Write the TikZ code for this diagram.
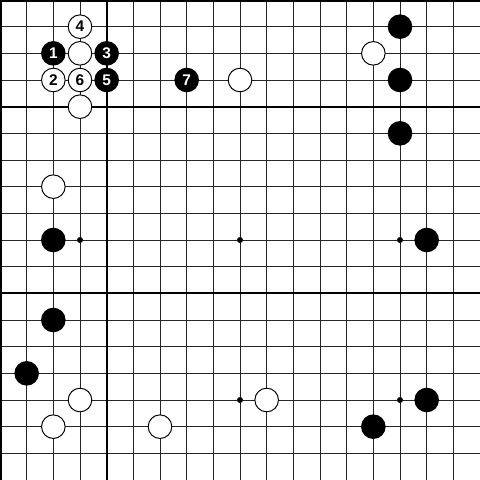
\documentclass[tikz,border=0pt]{standalone}
\usepackage{fontspec}
\setmainfont{Liberation Sans}
\begin{document}
\begin{tikzpicture}[x=0.6666667cm,y=-0.6666667cm,
  gridline/.style={line width=0.7pt,black!85},
  thickline/.style={line width=1.5pt,black},
  edgeline/.style={line width=2.6pt,black},
  starpt/.style={circle,fill=black,inner sep=0pt,minimum size=0.15cm},
  bstone/.style={circle,fill=black,text=white,inner sep=0pt,minimum size=0.615cm,font=\bfseries\fontsize{11pt}{11pt}\selectfont},
  wstone/.style={circle,draw=black,line width=0.7pt,fill=white,text=black,inner sep=0pt,minimum size=0.59cm,font=\bfseries\fontsize{11pt}{11pt}\selectfont}]
\useasboundingbox (0,0) rectangle (18,18);
\clip (0,0) rectangle (18,18);
\fill[white] (0,0) rectangle (18,18);
% grid
\foreach \i in {1,...,18} {
  \draw[gridline] (\i,0) -- (\i,18);
  \draw[gridline] (0,\i) -- (18,\i);
}
\draw[edgeline] (0,0) -- (0,18);
\draw[edgeline] (0,0) -- (18,0);
\draw[thickline] (4,0) -- (4,18);
\draw[thickline] (0,4) -- (18,4);
\draw[thickline] (0,11) -- (18,11);
% star points
\foreach \x/\y [count=\k] in {3/3,9/3,15/3,3/9,9/9,15/9,3/15,9/15,15/15}
  \node[starpt] (s\k) at (\x,\y) {};
% black stones
\node[bstone] (b1) at (2,2) {1};
\node[bstone] (b3) at (4,2) {3};
\node[bstone] (b5) at (4,3) {5};
\node[bstone] (b7) at (7,3) {7};
\node[bstone] (ba) at (15,1) {};
\node[bstone] (bb) at (15,3) {};
\node[bstone] (bc) at (15,5) {};
\node[bstone] (bd) at (2,9) {};
\node[bstone] (be) at (16,9) {};
\node[bstone] (bf) at (2,12) {};
\node[bstone] (bg) at (1,14) {};
\node[bstone] (bh) at (16,15) {};
\node[bstone] (bi) at (14,16) {};
% white stones
\node[wstone] (w4) at (3,1) {4};
\node[wstone] (wa) at (3,2) {};
\node[wstone] (w2) at (2,3) {2};
\node[wstone] (w6) at (3,3) {6};
\node[wstone] (wb) at (3,4) {};
\node[wstone] (wc) at (9,3) {};
\node[wstone] (wd) at (14,2) {};
\node[wstone] (we) at (2,7) {};
\node[wstone] (wf) at (3,15) {};
\node[wstone] (wg) at (2,16) {};
\node[wstone] (wh) at (6,16) {};
\node[wstone] (wi) at (10,15) {};
\end{tikzpicture}
\end{document}
